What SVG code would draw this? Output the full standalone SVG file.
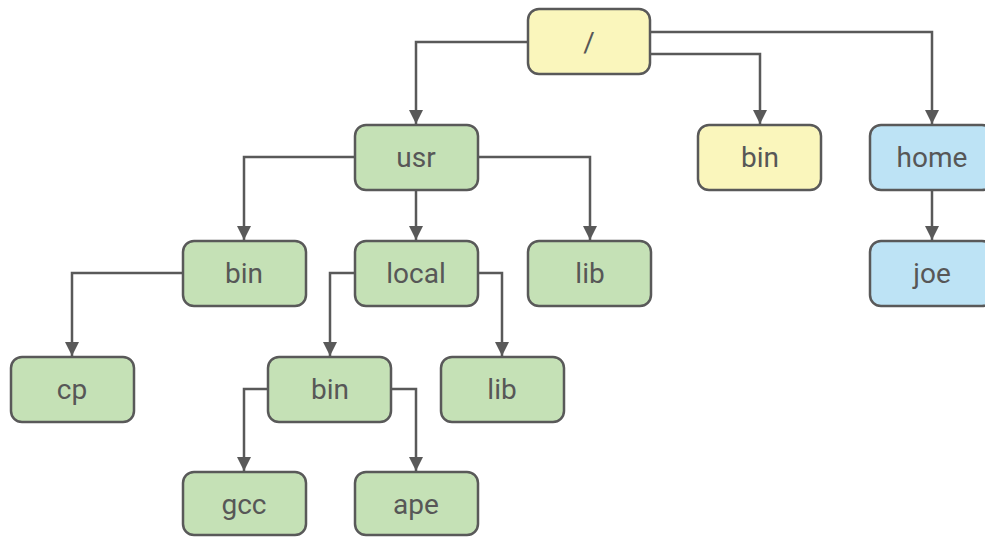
<svg xmlns="http://www.w3.org/2000/svg" width="985" height="537" viewBox="0 0 985 537">
  <style>
    .box { stroke: #595959; stroke-width: 2.5; }
    .g { fill: #c5e1b6; }
    .y { fill: #faf6bc; }
    .b { fill: #bde3f5; }
    .lbl { font-family: Roboto, "Liberation Sans", sans-serif; font-size: 28px; fill: #575757; text-anchor: middle; dominant-baseline: central; }
    .wire { fill: none; stroke: #595959; stroke-width: 2.5; marker-end: url(#arr); }
  </style>
  <defs>
    <marker id="arr" viewBox="0 0 14 14" refX="14" refY="7" markerWidth="14" markerHeight="14" markerUnits="userSpaceOnUse" orient="auto">
      <path d="M0,0 L14,7 L0,14 Z" fill="#595959"/>
    </marker>
  </defs>

  <g id="connectors">
    <path class="wire" d="M528,42 H416 V124"/>
    <path class="wire" d="M650,54 H760 V124"/>
    <path class="wire" d="M650,32 H932 V124"/>
    <path class="wire" d="M355,157 H244 V240"/>
    <path class="wire" d="M416,190 V240"/>
    <path class="wire" d="M478,157 H590 V240"/>
    <path class="wire" d="M183,273 H72 V356"/>
    <path class="wire" d="M355,273 H330 V356"/>
    <path class="wire" d="M478,273 H502 V356"/>
    <path class="wire" d="M268,389 H244 V471"/>
    <path class="wire" d="M391,389 H416 V471"/>
    <path class="wire" d="M932,190 V240"/>
  </g>

  <g id="root"><rect class="box y" x="528" y="9" width="122" height="65" rx="11"/><text class="lbl" x="589" y="42">/</text></g>
  <g id="usr"><rect class="box g" x="355" y="125" width="123" height="65" rx="11"/><text class="lbl" x="416" y="157">usr</text></g>
  <g id="bin"><rect class="box y" x="698" y="125" width="123" height="65" rx="11"/><text class="lbl" x="760" y="157">bin</text></g>
  <g id="home"><rect class="box b" x="870" y="125" width="123" height="65" rx="11"/><text class="lbl" x="932" y="157">home</text></g>
  <g id="usr-bin"><rect class="box g" x="183" y="241" width="123" height="65" rx="11"/><text class="lbl" x="244" y="273">bin</text></g>
  <g id="usr-local"><rect class="box g" x="355" y="241" width="123" height="65" rx="11"/><text class="lbl" x="416" y="273">local</text></g>
  <g id="usr-lib"><rect class="box g" x="528" y="241" width="123" height="65" rx="11"/><text class="lbl" x="590" y="273">lib</text></g>
  <g id="joe"><rect class="box b" x="870" y="241" width="123" height="65" rx="11"/><text class="lbl" x="932" y="273">joe</text></g>
  <g id="cp"><rect class="box g" x="11" y="357" width="123" height="65" rx="11"/><text class="lbl" x="72" y="389">cp</text></g>
  <g id="local-bin"><rect class="box g" x="268" y="357" width="123" height="65" rx="11"/><text class="lbl" x="330" y="389">bin</text></g>
  <g id="local-lib"><rect class="box g" x="441" y="357" width="123" height="65" rx="11"/><text class="lbl" x="502" y="389">lib</text></g>
  <g id="gcc"><rect class="box g" x="183" y="472" width="123" height="63" rx="11"/><text class="lbl" x="244" y="504">gcc</text></g>
  <g id="ape"><rect class="box g" x="355" y="472" width="123" height="63" rx="11"/><text class="lbl" x="416" y="504">ape</text></g>
</svg>
